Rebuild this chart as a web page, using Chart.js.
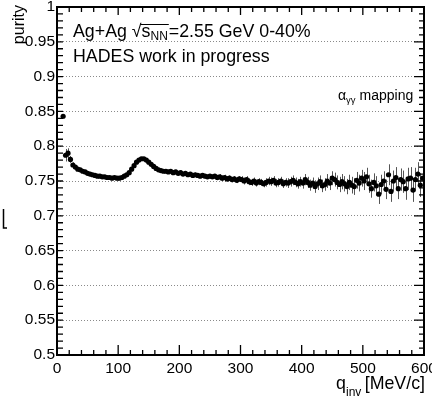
<!DOCTYPE html>
<html>
<head>
<meta charset="utf-8">
<script src="https://cdn.jsdelivr.net/npm/chart.js@4.4.0/dist/chart.umd.min.js"></script>
<style>
  html, body { margin: 0; padding: 0; background: #fff; overflow: hidden; }
  canvas { display: block; }
</style>
</head>
<body>
<canvas id="chart" width="432" height="397"></canvas>
<script>
// q_inv bin centres [MeV/c]
const qinv = [
  10, 14, 18, 22, 26, 30, 34, 38, 42, 46,
  50, 54, 58, 62, 66, 70, 74, 78, 82, 86,
  90, 94, 98, 102, 106, 110, 114, 118, 122, 126,
  130, 134, 138, 142, 146, 150, 154, 158, 162, 166,
  170, 174, 178, 182, 186, 190, 194, 198, 202, 206,
  210, 214, 218, 222, 226, 230, 234, 238, 242, 246,
  250, 254, 258, 262, 266, 270, 274, 278, 282, 286,
  290, 294, 298, 302, 306, 310, 314, 318, 322, 326,
  330, 334, 338, 342, 346, 350, 354, 358, 362, 366,
  370, 374, 378, 382, 386, 390, 394, 398, 402, 406,
  410, 414, 418, 422, 426, 430, 434, 438, 442, 446,
  450, 454, 458, 462, 466, 470, 474, 478, 482, 486,
  490, 494, 498, 502, 506, 510, 514, 518, 522, 526,
  530, 534, 538, 542, 546, 550, 554, 558, 562, 566,
  570, 574, 578, 582, 586, 590, 594, 598
];

const purity = [
  0.843, 0.787, 0.790, 0.781, 0.773, 0.770, 0.767, 0.766, 0.764, 0.763,
  0.761, 0.760, 0.759, 0.758, 0.757, 0.757, 0.756, 0.756, 0.755, 0.755,
  0.754, 0.755, 0.754, 0.754, 0.755, 0.757, 0.759, 0.762, 0.767, 0.772,
  0.777, 0.780, 0.782, 0.782, 0.780, 0.777, 0.774, 0.771, 0.768, 0.766,
  0.765, 0.764, 0.764, 0.763, 0.764, 0.762, 0.763, 0.761, 0.762, 0.760,
  0.761, 0.759, 0.760, 0.758, 0.759, 0.758, 0.757, 0.758, 0.757, 0.756,
  0.757, 0.756, 0.757, 0.755, 0.756, 0.754, 0.755, 0.753, 0.754, 0.752,
  0.753, 0.751, 0.753, 0.752, 0.750, 0.752, 0.749, 0.748, 0.750, 0.747,
  0.749, 0.748, 0.746, 0.748, 0.750, 0.749, 0.751, 0.747, 0.748, 0.750,
  0.746, 0.748, 0.747, 0.749, 0.751, 0.748, 0.746, 0.749, 0.747, 0.752,
  0.748, 0.744, 0.747, 0.742, 0.746, 0.749, 0.743, 0.745, 0.750, 0.747,
  0.754, 0.752, 0.748, 0.745, 0.749, 0.746, 0.742, 0.748, 0.744, 0.742,
  0.751, 0.747, 0.754, 0.750, 0.756, 0.746, 0.739, 0.748, 0.743, 0.731,
  0.745, 0.750, 0.738, 0.759, 0.735, 0.750, 0.755, 0.739, 0.752, 0.749,
  0.739, 0.753, 0.754, 0.737, 0.752, 0.760, 0.744, 0.754
];

const purityErr = [
  0.003, 0.009, 0.007, 0.005, 0.004, 0.003, 0.003, 0.002, 0.002, 0.002,
  0.002, 0.002, 0.002, 0.002, 0.002, 0.002, 0.002, 0.002, 0.002, 0.002,
  0.002, 0.002, 0.002, 0.002, 0.002, 0.002, 0.002, 0.002, 0.002, 0.002,
  0.002, 0.002, 0.002, 0.002, 0.002, 0.002, 0.002, 0.002, 0.002, 0.002,
  0.002, 0.002, 0.002, 0.002, 0.002, 0.003, 0.003, 0.003, 0.003, 0.003,
  0.003, 0.003, 0.003, 0.003, 0.003, 0.003, 0.003, 0.003, 0.003, 0.003,
  0.003, 0.003, 0.003, 0.004, 0.004, 0.004, 0.004, 0.004, 0.004, 0.004,
  0.004, 0.004, 0.004, 0.005, 0.005, 0.005, 0.005, 0.005, 0.005, 0.005,
  0.005, 0.005, 0.005, 0.006, 0.006, 0.006, 0.006, 0.006, 0.006, 0.006,
  0.006, 0.006, 0.007, 0.007, 0.007, 0.007, 0.007, 0.007, 0.008, 0.008,
  0.008, 0.008, 0.008, 0.009, 0.009, 0.009, 0.009, 0.009, 0.010, 0.010,
  0.010, 0.010, 0.010, 0.011, 0.011, 0.011, 0.011, 0.011, 0.012, 0.012,
  0.012, 0.012, 0.012, 0.013, 0.013, 0.013, 0.013, 0.013, 0.014, 0.014,
  0.014, 0.014, 0.014, 0.015, 0.015, 0.015, 0.015, 0.015, 0.016, 0.016,
  0.016, 0.016, 0.016, 0.017, 0.017, 0.017, 0.017, 0.017
];

const xRange = [0, 600];
const yRange = [0.5, 1];
const xStep = 100;
const yStep = 0.05;

const FONT = "'Liberation Sans', Arial, sans-serif";
Chart.defaults.font.family = FONT;
Chart.defaults.color = '#000';

// ROOT-like frame: inward ticks, error bars, text labels
const rootStyle = {
  id: 'rootStyle',
  beforeDatasetsDraw(chart) {
    const { ctx, scales: { x, y } } = chart;
    ctx.save();
    ctx.strokeStyle = '#555';
    ctx.lineWidth = 1;
    ctx.beginPath();
    qinv.forEach((q, i) => {
      const px = Math.round(x.getPixelForValue(q)) + 0.5;
      ctx.moveTo(px, y.getPixelForValue(purity[i] - purityErr[i]));
      ctx.lineTo(px, y.getPixelForValue(purity[i] + purityErr[i]));
    });
    ctx.stroke();
    ctx.restore();
  },
  afterDraw(chart) {
    const { ctx, chartArea: a, scales: { x, y } } = chart;
    ctx.save();

    // ticks
    ctx.strokeStyle = '#000';
    ctx.lineWidth = 1.3;
    ctx.beginPath();
    for (let k = 0; k <= 30; k++) {
      const px = x.getPixelForValue(xRange[0] + k * 20);
      const major = k % 5 === 0;
      ctx.moveTo(px, a.bottom);
      ctx.lineTo(px, a.bottom - (major ? 10 : 5));
      ctx.moveTo(px, a.top);
      ctx.lineTo(px, a.top + (major ? 8 : 5));
    }
    for (let k = 0; k <= 50; k++) {
      const py = y.getPixelForValue(yRange[0] + k * 0.01);
      const major = k % 5 === 0;
      ctx.moveTo(a.left, py);
      ctx.lineTo(a.left + 6, py);
      ctx.moveTo(a.right, py);
      ctx.lineTo(a.right - (major ? 10 : 5), py);
    }
    ctx.stroke();

    // frame
    ctx.lineWidth = 2;
    ctx.strokeRect(a.left, a.top, a.right - a.left, a.bottom - a.top);

    // stray mark at left edge
    ctx.lineWidth = 1.5;
    ctx.beginPath();
    ctx.moveTo(3.5, 209);
    ctx.lineTo(3.5, 228);
    ctx.lineTo(7, 228);
    ctx.stroke();

    ctx.fillStyle = '#000';
    ctx.textBaseline = 'alphabetic';
    ctx.textAlign = 'left';

    // header line 1: Ag+Ag sqrt(s_NN)=2.55 GeV 0-40%
    const big = '17.8px ' + FONT;
    const sub = '12px ' + FONT;
    let cx = 73;
    const base = 37;
    ctx.font = big;
    ctx.fillText('Ag+Ag ', cx, base);
    cx += ctx.measureText('Ag+Ag ').width;
    ctx.fillText('\u221A', cx, base);
    const rootW = ctx.measureText('\u221A').width;
    const barStart = cx + rootW - 1;
    cx += rootW;
    ctx.fillText('s', cx, base);
    cx += ctx.measureText('s').width;
    ctx.font = sub;
    ctx.fillText('NN', cx, base + 3);
    cx += ctx.measureText('NN').width;
    ctx.lineWidth = 1;
    ctx.beginPath();
    ctx.moveTo(barStart, 24.5);
    ctx.lineTo(cx + 1, 24.5);
    ctx.stroke();
    ctx.font = big;
    ctx.fillText('=2.55 GeV 0-40%', cx + 1, base);

    // header line 2
    ctx.fillText('HADES work in progress', 73, 62);

    // alpha_gg mapping
    ctx.font = '14px ' + FONT;
    let mx = 338;
    ctx.fillText('\u03B1', mx, 100);
    mx += ctx.measureText('\u03B1').width;
    ctx.font = '9.5px ' + FONT;
    ctx.fillText('\u03B3\u03B3', mx, 103);
    mx += ctx.measureText('\u03B3\u03B3').width + 4;
    ctx.font = '14px ' + FONT;
    ctx.fillText('mapping', mx, 100);

    // x title
    ctx.font = big;
    ctx.fillText('q', 336, 389);
    ctx.font = sub;
    ctx.fillText('inv', 346, 396);
    ctx.font = big;
    ctx.textAlign = 'right';
    ctx.fillText('[MeV/c]', 425, 389);

    // y title
    ctx.translate(24, a.top - 2);
    ctx.rotate(-Math.PI / 2);
    ctx.font = '16px ' + FONT;
    ctx.textAlign = 'right';
    ctx.fillText('purity', 0, 0);

    ctx.restore();
  }
};

new Chart(document.getElementById('chart'), {
  type: 'scatter',
  data: {
    datasets: [{
      data: qinv.map((q, i) => ({ x: q, y: purity[i] })),
      pointRadius: 2.6,
      pointBackgroundColor: '#000',
      pointBorderWidth: 0,
      showLine: false
    }]
  },
  options: {
    responsive: false,
    animation: false,
    events: [],
    layout: { padding: { left: 0, right: 8, top: 7, bottom: 0 } },
    plugins: { legend: { display: false }, tooltip: { enabled: false } },
    scales: {
      x: {
        type: 'linear',
        min: xRange[0],
        max: xRange[1],
        grid: { display: false, drawTicks: false },
        border: { display: false },
        ticks: { stepSize: xStep, padding: 4, font: { size: 15.5 } },
        afterFit(s) {
          s.height = 42;
          s.paddingLeft = 0;
          s.paddingRight = 0;
        }
      },
      y: {
        min: yRange[0],
        max: yRange[1],
        grid: {
          drawTicks: false,
          color: c => (c.tick && (c.tick.value <= 0.501 || c.tick.value >= 0.999)) ? 'rgba(0,0,0,0)' : '#8a8a8a',
          lineWidth: 1
        },
        border: { display: false, dash: [1, 2] },
        ticks: {
          stepSize: yStep,
          padding: 2,
          font: { size: 15.5 },
          callback: v => String(+v.toFixed(2))
        },
        afterFit(s) {
          s.width = 57;
          s.paddingTop = 0;
          s.paddingBottom = 0;
        }
      }
    }
  },
  plugins: [rootStyle]
});
</script>
</body>
</html>
